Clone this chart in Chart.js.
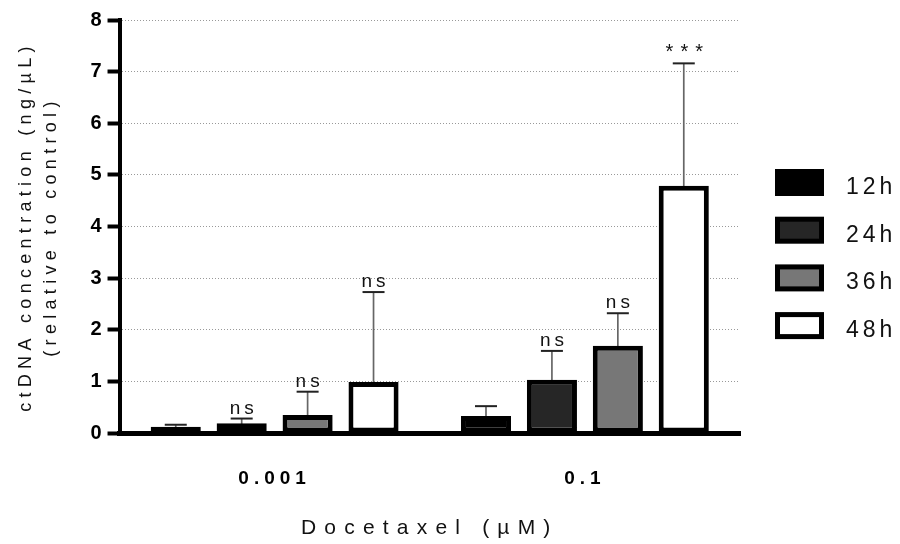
<!DOCTYPE html>
<html>
<head>
<meta charset="utf-8">
<script src="https://cdn.jsdelivr.net/npm/chart.js@4/dist/chart.umd.min.js"></script>
<style>
  body { margin: 0; background: #fff; }
  #wrap { width: 900px; height: 544px; }
</style>
</head>
<body>
<div id="wrap"><canvas id="myChart" width="900" height="544"></canvas></div>
<script>
var doses = ['0.001', '0.1'];
var times = ['12h', '24h', '36h', '48h'];

// mean values, one per dose
var h12 = [0.12, 0.33];
var h24 = [0.19, 1.03];
var h36 = [0.35, 1.69];
var h48 = [0.99, 4.79];

// top of each error bar (mean + SD)
var h12Err = [0.16, 0.52];
var h24Err = [0.28, 1.59];
var h36Err = [0.80, 2.32];
var h48Err = [2.73, 7.16];

// significance marks
var h12Sig = ['', ''];
var h24Sig = ['ns', 'ns'];
var h36Sig = ['ns', 'ns'];
var h48Sig = ['ns', '***'];

var yTicks = [0, 1, 2, 3, 4, 5, 6, 7, 8];

var FONT = 'Arial, "Liberation Sans", sans-serif';

function series(label, data, fill, err, sig) {
    return {
        label: label,
        data: data,
        backgroundColor: fill,
        borderColor: '#000',
        borderWidth: 5,
        borderSkipped: false,
        errTop: err,
        sig: sig
    };
}

// the original figure uses wide letter spacing, chart.js has no option for it
function spaced(fn, px) {
    return function() {
        var c = this.ctx;
        var old = c.letterSpacing;
        c.letterSpacing = px;
        fn.apply(this, arguments);
        c.letterSpacing = old;
    };
}

function spaceAxis(axis, labelPx, titlePx) {
    if (axis._spaced) return;
    axis.drawLabels = spaced(axis.drawLabels, labelPx);
    axis.drawTitle = spaced(axis.drawTitle, titlePx);
    axis._spaced = true;
}

// error bars (drawn behind the bars) + significance text
var errorBars = {
    id: 'errorBars',
    beforeDatasetsDraw: function(chart) {
        var ctx = chart.ctx;
        var y = chart.scales.y;
        chart.data.datasets.forEach(function(ds, i) {
            var meta = chart.getDatasetMeta(i);
            meta.data.forEach(function(bar, j) {
                var top = y.getPixelForValue(ds.errTop[j]);
                ctx.save();
                ctx.strokeStyle = '#666';
                ctx.lineWidth = 1.7;
                ctx.beginPath();
                ctx.moveTo(bar.x, bar.y + 4);
                ctx.lineTo(bar.x, top);
                ctx.stroke();
                ctx.strokeStyle = '#222';
                ctx.lineWidth = 2;
                ctx.beginPath();
                ctx.moveTo(bar.x - 11, top);
                ctx.lineTo(bar.x + 11, top);
                ctx.stroke();
                var s = ds.sig[j];
                if (s) {
                    var stars = s == '***';
                    ctx.fillStyle = '#111';
                    ctx.font = (stars ? '20px ' : '19px ') + FONT;
                    ctx.letterSpacing = stars ? '7px' : '4px';
                    ctx.textAlign = 'center';
                    ctx.textBaseline = 'alphabetic';
                    ctx.fillText(s, bar.x + (stars ? 4 : 2), top - 5);
                }
                ctx.restore();
            });
        });
    }
};

// legend on the right, drawn by hand to get the spacing of the original
var sideLegend = {
    id: 'sideLegend',
    afterDraw: function(chart) {
        var ctx = chart.ctx;
        ctx.save();
        chart.data.datasets.forEach(function(ds, i) {
            var top = 171.5 + i * 47.7;
            ctx.fillStyle = ds.backgroundColor;
            ctx.fillRect(777.5, top, 44, 22);
            ctx.strokeStyle = '#000';
            ctx.lineWidth = 5;
            ctx.strokeRect(777.5, top, 44, 22);
            ctx.fillStyle = '#111';
            ctx.font = '23px ' + FONT;
            ctx.letterSpacing = '4px';
            ctx.textAlign = 'left';
            ctx.textBaseline = 'alphabetic';
            ctx.fillText(ds.label, 846, top + 22.5);
        });
        ctx.restore();
    }
};

var ctx = document.getElementById('myChart').getContext('2d');

var chart = new Chart(ctx, {
    type: 'bar',
    data: {
        labels: doses,
        datasets: [
            series(times[0], h12, '#000000', h12Err, h12Sig),
            series(times[1], h24, '#262626', h24Err, h24Sig),
            series(times[2], h36, '#777777', h36Err, h36Sig),
            series(times[3], h48, '#ffffff', h48Err, h48Sig)
        ]
    },
    options: {
        responsive: false,
        animation: false,
        categoryPercentage: 0.85,
        barPercentage: 0.76,
        layout: { padding: { top: 20, right: 160, left: 13, bottom: 3 } },
        plugins: {
            tooltip: { enabled: false },
            legend: { display: false }
        },
        scales: {
            x: {
                afterFit: function(axis) { spaceAxis(axis, '5px', '8.2px'); },
                grid: { display: false, drawTicks: false },
                border: { color: '#000', width: 5 },
                ticks: {
                    color: '#000',
                    padding: 34,
                    font: { family: FONT, size: 19, weight: 'bold' }
                },
                title: {
                    display: true,
                    text: 'Docetaxel (µM)',
                    color: '#111',
                    padding: { top: -8, bottom: 0 },
                    font: { family: FONT, size: 21 }
                }
            },
            y: {
                min: 0,
                max: 8,
                afterBuildTicks: function(axis) {
                    axis.ticks = yTicks.map(function(v) { return { value: v }; });
                },
                afterFit: function(axis) { spaceAxis(axis, '0px', '5.3px'); },
                grid: {
                    color: '#999',
                    lineWidth: 1,
                    tickLength: 12,
                    tickWidth: 4,
                    tickColor: '#000'
                },
                border: { color: '#000', width: 4, dash: [1, 2] },
                ticks: {
                    color: '#000',
                    padding: 6,
                    font: { family: FONT, size: 20, weight: 'bold' }
                },
                title: {
                    display: true,
                    text: ['ctDNA concentration (ng/µL)', '(relative to control)'],
                    color: '#111',
                    padding: { top: 0, bottom: 21 },
                    font: { family: FONT, size: 18, lineHeight: 1.4 }
                }
            }
        }
    },
    plugins: [errorBars, sideLegend]
});
</script>
</body>
</html>
